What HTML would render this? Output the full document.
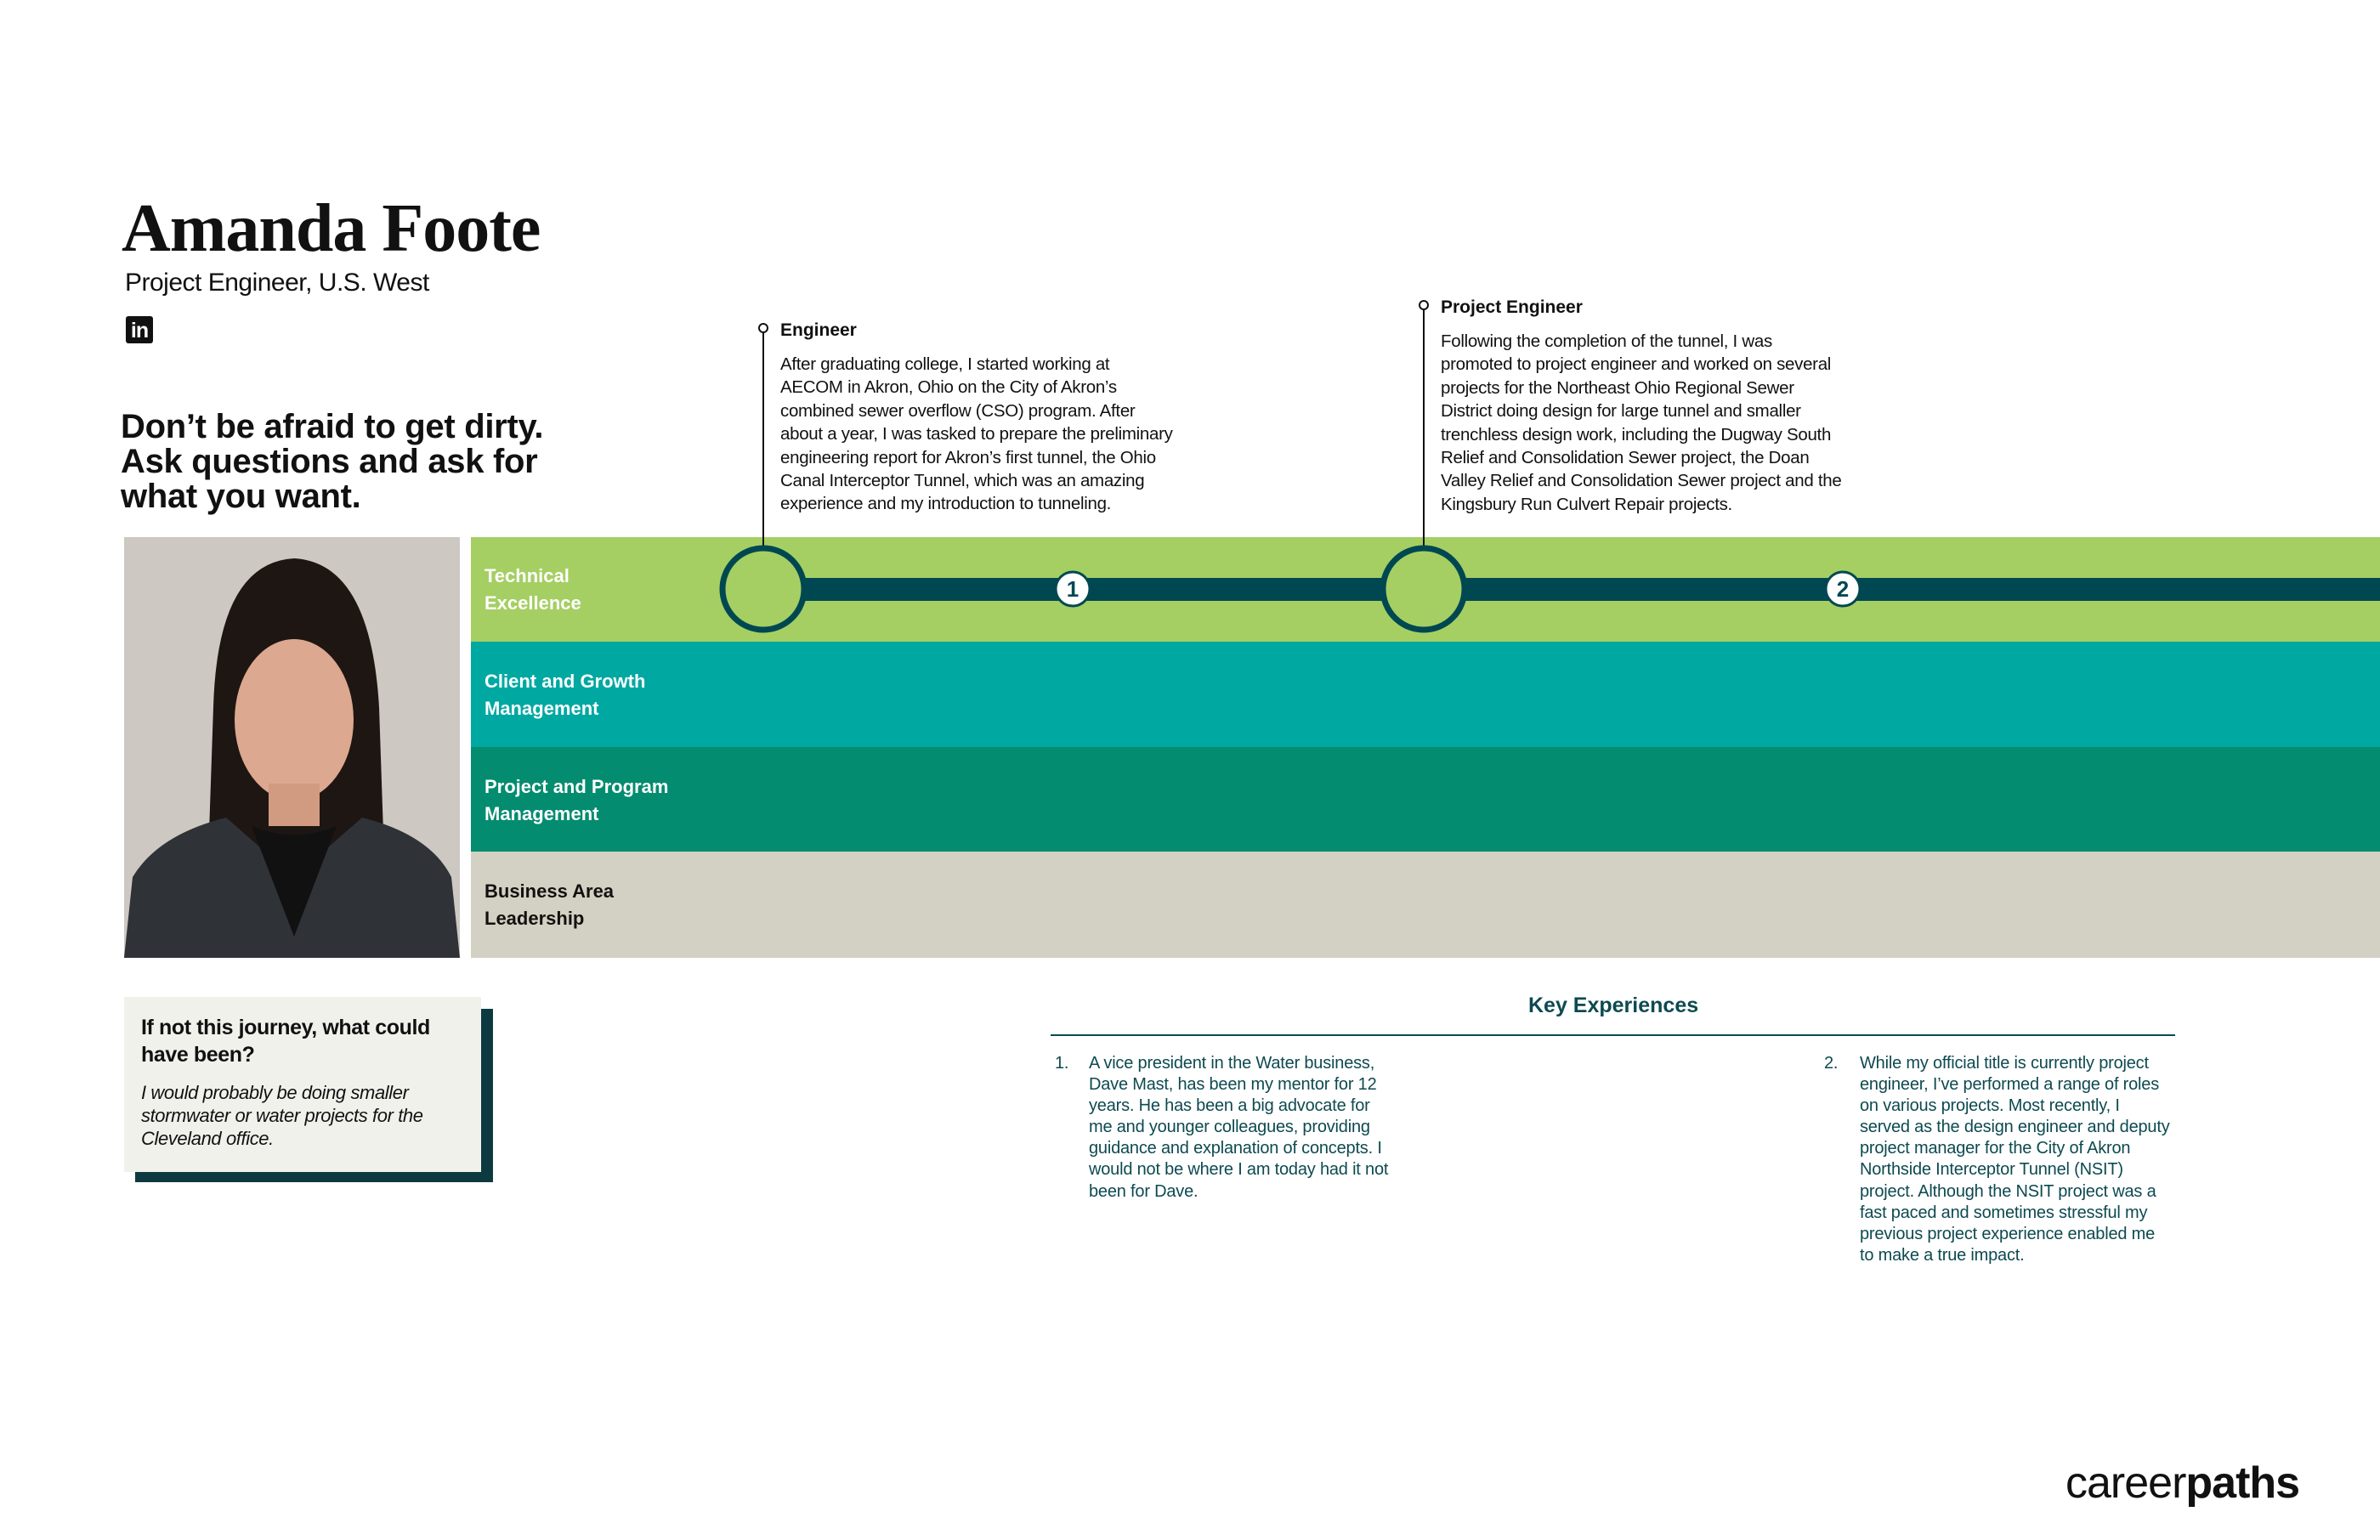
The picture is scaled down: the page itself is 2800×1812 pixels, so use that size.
<!DOCTYPE html>
<html><head><meta charset="utf-8">
<style>
*{margin:0;padding:0;box-sizing:border-box}
body{width:2800px;height:1812px;background:#fff;position:relative;overflow:hidden;font-family:"Liberation Sans",sans-serif;color:#111}
.a{position:absolute;white-space:nowrap}
.name{left:143px;top:224px;font-family:"Liberation Serif",serif;font-weight:bold;font-size:80px;letter-spacing:-1px;color:#111}
.sub{left:147px;top:316px;font-size:30px;letter-spacing:-0.5px}
.quote{left:142px;top:482px;font-size:40px;font-weight:bold;line-height:41px;letter-spacing:-0.3px}
.band{position:absolute;left:554px;width:2246px}
.bl{position:absolute;left:570px;font-size:22px;font-weight:bold;line-height:32px;color:#fff}
.ttl{font-size:21px;font-weight:bold}
.body{font-size:20.5px;line-height:27.4px;letter-spacing:-0.3px}
.ke{font-size:20px;line-height:25.1px;color:#0d4a50;letter-spacing:-0.2px}
</style></head><body>
<div class="a name">Amanda Foote</div>
<div class="a sub">Project Engineer, U.S. West</div>
<div class="a" style="left:148px;top:372px;width:32px;height:32px;background:#111;border-radius:3px;color:#fff;font-weight:bold;font-size:25px;line-height:34px;text-align:center;letter-spacing:-1px">in</div>
<div class="a quote">Don’t be afraid to get dirty.<br>Ask questions and ask for<br>what you want.</div>

<svg class="a" style="left:146px;top:632px" width="395" height="495" viewBox="0 0 395 495">
<rect width="395" height="495" fill="#cdc8c2"/>
<path d="M95 495 L105 200 Q110 30 200 25 Q290 30 300 200 L310 495 Z" fill="#1e1613"/>
<ellipse cx="200" cy="215" rx="70" ry="95" fill="#dca88f"/>
<path d="M130 180 Q150 70 220 75 Q270 90 275 190 Q250 110 200 105 Q150 120 130 180Z" fill="#1e1613"/>
<path d="M0 495 L10 400 Q40 350 120 330 L200 400 L280 330 Q360 350 385 400 L395 495Z" fill="#2f3338"/>
<path d="M150 340 L200 470 L250 340 Q200 360 150 340Z" fill="#111"/>
<rect x="170" y="290" width="60" height="50" fill="#d19b82"/>
</svg>

<div class="band" style="top:632px;height:123px;background:#a5cf63"></div>
<div class="band" style="top:755px;height:124px;background:#00a8a2"></div>
<div class="band" style="top:879px;height:123px;background:#048c70"></div>
<div class="band" style="top:1002px;height:125px;background:#d3d1c3"></div>
<div class="bl" style="top:662px">Technical<br>Excellence</div>
<div class="bl" style="top:786px">Client and Growth<br>Management</div>
<div class="bl" style="top:910px">Project and Program<br>Management</div>
<div class="bl" style="top:1033px;color:#111">Business Area<br>Leadership</div>

<svg class="a" style="left:0;top:0" width="2800" height="1812">
<rect x="900" y="680" width="1900" height="27" fill="#004851"/>
<line x1="898" y1="386" x2="898" y2="644" stroke="#111" stroke-width="2"/>
<circle cx="898" cy="386" r="5" fill="#fff" stroke="#111" stroke-width="2"/>
<line x1="1675" y1="359" x2="1675" y2="644" stroke="#111" stroke-width="2"/>
<circle cx="1675" cy="359" r="5" fill="#fff" stroke="#111" stroke-width="2"/>
<circle cx="898" cy="693" r="48" fill="#a5cf63" stroke="#004851" stroke-width="7"/>
<circle cx="1675" cy="693" r="48" fill="#a5cf63" stroke="#004851" stroke-width="7"/>
<circle cx="1262" cy="693" r="20" fill="#fff" stroke="#004851" stroke-width="3"/>
<text x="1262" y="702" text-anchor="middle" font-family="Liberation Sans" font-weight="bold" font-size="26" fill="#004851">1</text>
<circle cx="2168" cy="693" r="20" fill="#fff" stroke="#004851" stroke-width="3"/>
<text x="2168" y="702" text-anchor="middle" font-family="Liberation Sans" font-weight="bold" font-size="26" fill="#004851">2</text>
<line x1="1236" y1="1218" x2="2559" y2="1218" stroke="#0d4a50" stroke-width="2"/>
</svg>

<div class="a ttl" style="left:918px;top:377px">Engineer</div>
<div class="a body" style="left:918px;top:415px">After graduating college, I started working at<br>AECOM in Akron, Ohio on the City of Akron’s<br>combined sewer overflow (CSO) program. After<br>about a year, I was tasked to prepare the preliminary<br>engineering report for Akron’s first tunnel, the Ohio<br>Canal Interceptor Tunnel, which was an amazing<br>experience and my introduction to tunneling.</div>
<div class="a ttl" style="left:1695px;top:350px">Project Engineer</div>
<div class="a body" style="left:1695px;top:388px">Following the completion of the tunnel, I was<br>promoted to project engineer and worked on several<br>projects for the Northeast Ohio Regional Sewer<br>District doing design for large tunnel and smaller<br>trenchless design work, including the Dugway South<br>Relief and Consolidation Sewer project, the Doan<br>Valley Relief and Consolidation Sewer project and the<br>Kingsbury Run Culvert Repair projects.</div>

<div class="a" style="left:159px;top:1187px;width:421px;height:204px;background:#0d3a40"></div>
<div class="a" style="left:146px;top:1173px;width:420px;height:206px;background:#f1f1ec"></div>
<div class="a" style="left:166px;top:1193px;font-size:25px;font-weight:bold;line-height:32px;letter-spacing:-0.4px">If not this journey, what could<br>have been?</div>
<div class="a" style="left:166px;top:1272px;font-size:22px;font-style:italic;line-height:27px;letter-spacing:-0.4px">I would probably be doing smaller<br>stormwater or water projects for the<br>Cleveland office.</div>

<div class="a" style="left:1798px;top:1169px;font-size:25px;font-weight:bold;color:#0d4a50">Key Experiences</div>
<div class="a ke" style="left:1241px;top:1239px">1.</div>
<div class="a ke" style="left:1281px;top:1239px">A vice president in the Water business,<br>Dave Mast, has been my mentor for 12<br>years. He has been a big advocate for<br>me and younger colleagues, providing<br>guidance and explanation of concepts. I<br>would not be where I am today had it not<br>been for Dave.</div>
<div class="a ke" style="left:2146px;top:1239px">2.</div>
<div class="a ke" style="left:2188px;top:1239px">While my official title is currently project<br>engineer, I’ve performed a range of roles<br>on various projects. Most recently, I<br>served as the design engineer and deputy<br>project manager for the City of Akron<br>Northside Interceptor Tunnel (NSIT)<br>project. Although the NSIT project was a<br>fast paced and sometimes stressful my<br>previous project experience enabled me<br>to make a true impact.</div>

<div class="a" style="left:2430px;top:1715px;font-size:52px;letter-spacing:-1px;color:#111">career<b>paths</b></div>
</body></html>
